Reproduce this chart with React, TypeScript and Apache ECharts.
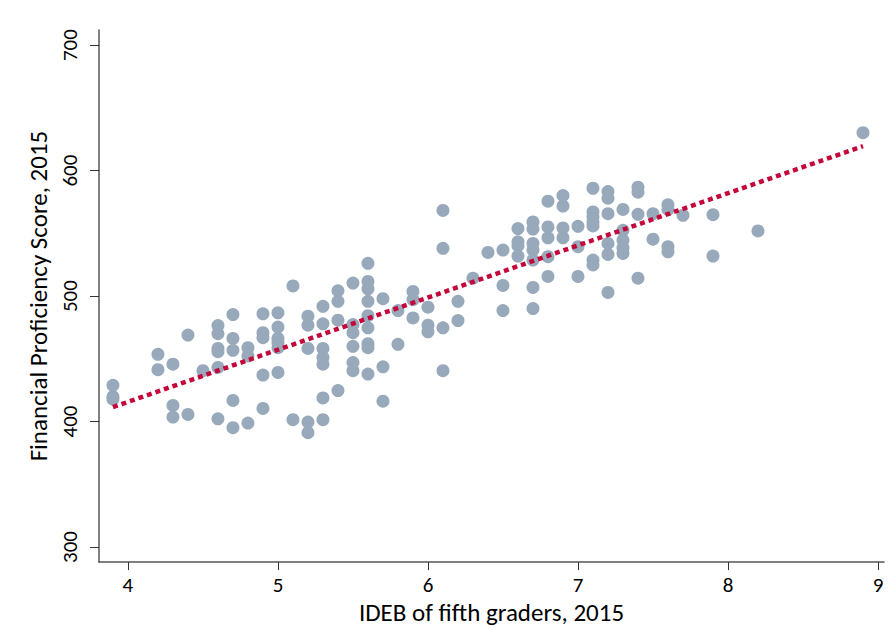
import React, { useEffect, useRef } from "react";
import * as echarts from "echarts";

// IDEB (x) value for each column of points
const ideb: number[] = [
  3.9, 3.9, 3.9,
  4.2, 4.2,
  4.3, 4.3, 4.3,
  4.4, 4.4,
  4.5,
  4.6, 4.6, 4.6, 4.6, 4.6, 4.6,
  4.7, 4.7, 4.7, 4.7, 4.7,
  4.8, 4.8, 4.8,
  4.9, 4.9, 4.9, 4.9, 4.9,
  5.0, 5.0, 5.0, 5.0, 5.0, 5.0,
  5.1, 5.1,
  5.2, 5.2, 5.2, 5.2, 5.2,
  5.3, 5.3, 5.3, 5.3, 5.3, 5.3, 5.3,
  5.4, 5.4, 5.4, 5.4,
  5.5, 5.5, 5.5, 5.5, 5.5, 5.5,
  5.6, 5.6, 5.6, 5.6, 5.6, 5.6, 5.6, 5.6, 5.6,
  5.7, 5.7, 5.7,
  5.8, 5.8,
  5.9, 5.9, 5.9,
  6.0, 6.0, 6.0,
  6.1, 6.1, 6.1, 6.1,
  6.2, 6.2,
  6.3,
  6.4,
  6.5, 6.5, 6.5,
  6.6, 6.6, 6.6, 6.6,
  6.7, 6.7, 6.7, 6.7, 6.7, 6.7, 6.7,
  6.8, 6.8, 6.8, 6.8, 6.8,
  6.9, 6.9, 6.9, 6.9,
  7.0, 7.0, 7.0,
  7.1, 7.1, 7.1, 7.1, 7.1, 7.1, 7.1,
  7.2, 7.2, 7.2, 7.2, 7.2, 7.2,
  7.3, 7.3, 7.3, 7.3, 7.3,
  7.4, 7.4, 7.4, 7.4,
  7.5, 7.5,
  7.6, 7.6, 7.6, 7.6,
  7.7,
  7.9, 7.9,
  8.2,
  8.9,
];

// Financial proficiency score (y) for each point, same order
const score: number[] = [
  428.9, 419.8, 417.8,
  453.6, 441.3,
  445.7, 412.8, 403.6,
  468.9, 405.7,
  440.5,
  476.5, 470.0, 458.3, 455.7, 443.1, 402.2,
  485.2, 466.2, 456.8, 416.8, 395.1,
  458.9, 452.3, 398.8,
  485.8, 470.8, 466.8, 437.0, 410.4,
  486.6, 475.3, 466.2, 462.8, 458.9, 439.1,
  508.1, 401.5,
  484.0, 476.8, 458.3, 399.6, 391.1,
  491.8, 477.9, 458.3, 451.0, 445.7, 418.8, 401.5,
  504.2, 495.8, 480.8, 424.7,
  510.3, 477.3, 470.8, 459.9, 447.0, 440.5,
  526.1, 511.6, 505.8, 495.8, 484.4, 474.7, 462.0, 458.9, 437.8,
  497.9, 443.6, 416.2,
  488.4, 461.5,
  503.7, 497.1, 482.6,
  491.1, 476.8, 471.5,
  568.2, 538.0, 474.7, 440.5,
  495.8, 480.5,
  514.2,
  534.8,
  536.6, 508.5, 488.4,
  553.8, 543.2, 540.1, 531.9,
  559.1, 553.4, 541.9, 536.6, 528.7, 506.9, 490.0,
  575.6, 555.1, 546.4, 531.4, 515.6,
  580.1, 571.7, 554.3, 546.4,
  555.6, 539.3, 515.6,
  585.9, 567.0, 563.0, 559.0, 555.9, 528.7, 524.8,
  583.3, 578.0, 565.6, 541.9, 533.2, 502.9,
  569.0, 552.4, 544.5, 538.5, 534.0,
  586.7, 582.8, 565.1, 514.2,
  565.6, 545.3,
  572.7, 569.0, 539.3, 535.3,
  564.3,
  564.8, 531.9,
  551.9,
  630.2,
];

// Fitted line end points
const fitX: number[] = [3.9, 8.9];
const fitY: number[] = [411.5, 619.4];

const xTicks: number[] = [4, 5, 6, 7, 8, 9];
const yTicks: number[] = [300, 400, 500, 600, 700];

const FONT = 'Carlito, Lato, "Open Sans", sans-serif';

export default function App() {
  const ref = useRef<HTMLDivElement>(null);
  useEffect(() => {
    document.body.style.margin = "0";
    if (!ref.current) return;
    const chart = echarts.init(ref.current, undefined, { renderer: "svg" });
    const pts = ideb.map((x, i) => [x, score[i]]);
    const fit = fitX.map((x, i) => [x, fitY[i]]);
    chart.setOption({
      animation: false,
      backgroundColor: "#ffffff",
      grid: { left: 99, right: 6, top: 30, bottom: 64 },
      xAxis: {
        type: "value",
        min: 3.807,
        max: 9.04,
        name: "IDEB of fifth graders, 2015",
        nameLocation: "middle",
        nameGap: 33,
        nameTextStyle: { fontFamily: FONT, fontSize: 25, color: "#000" },
        axisLine: { onZero: false, lineStyle: { color: "#555", width: 1.5 } },
        axisTick: { customValues: xTicks, length: 8, lineStyle: { color: "#333", width: 1 } },
        axisLabel: {
          customValues: xTicks,
          margin: 12,
          fontFamily: FONT,
          fontSize: 21,
          color: "#000",
          showMaxLabel: true,
        },
        splitLine: { show: false },
      },
      yAxis: {
        type: "value",
        min: 288,
        max: 712,
        name: "Financial Proficiency Score, 2015",
        nameLocation: "middle",
        nameGap: 41,
        nameTextStyle: { fontFamily: FONT, fontSize: 25, color: "#000" },
        axisLine: { onZero: false, lineStyle: { color: "#555", width: 1.5 } },
        axisTick: { customValues: yTicks, length: 9, lineStyle: { color: "#333", width: 1 } },
        axisLabel: {
          customValues: yTicks,
          rotate: 90,
          margin: 19,
          fontFamily: FONT,
          fontSize: 21,
          color: "#000",
        },
        splitLine: { show: false },
      },
      series: [
        {
          type: "scatter",
          data: pts,
          symbol: "circle",
          symbolSize: 13,
          itemStyle: { color: "#97a9bb", opacity: 1 },
          z: 2,
        },
        {
          type: "line",
          data: fit,
          symbol: "none",
          lineStyle: { color: "#c4063a", width: 4.5, type: [5, 4] },
          z: 3,
        },
      ],
    });
    return () => chart.dispose();
  }, []);
  return <div ref={ref} style={{ width: 890, height: 630 }} />;
}
